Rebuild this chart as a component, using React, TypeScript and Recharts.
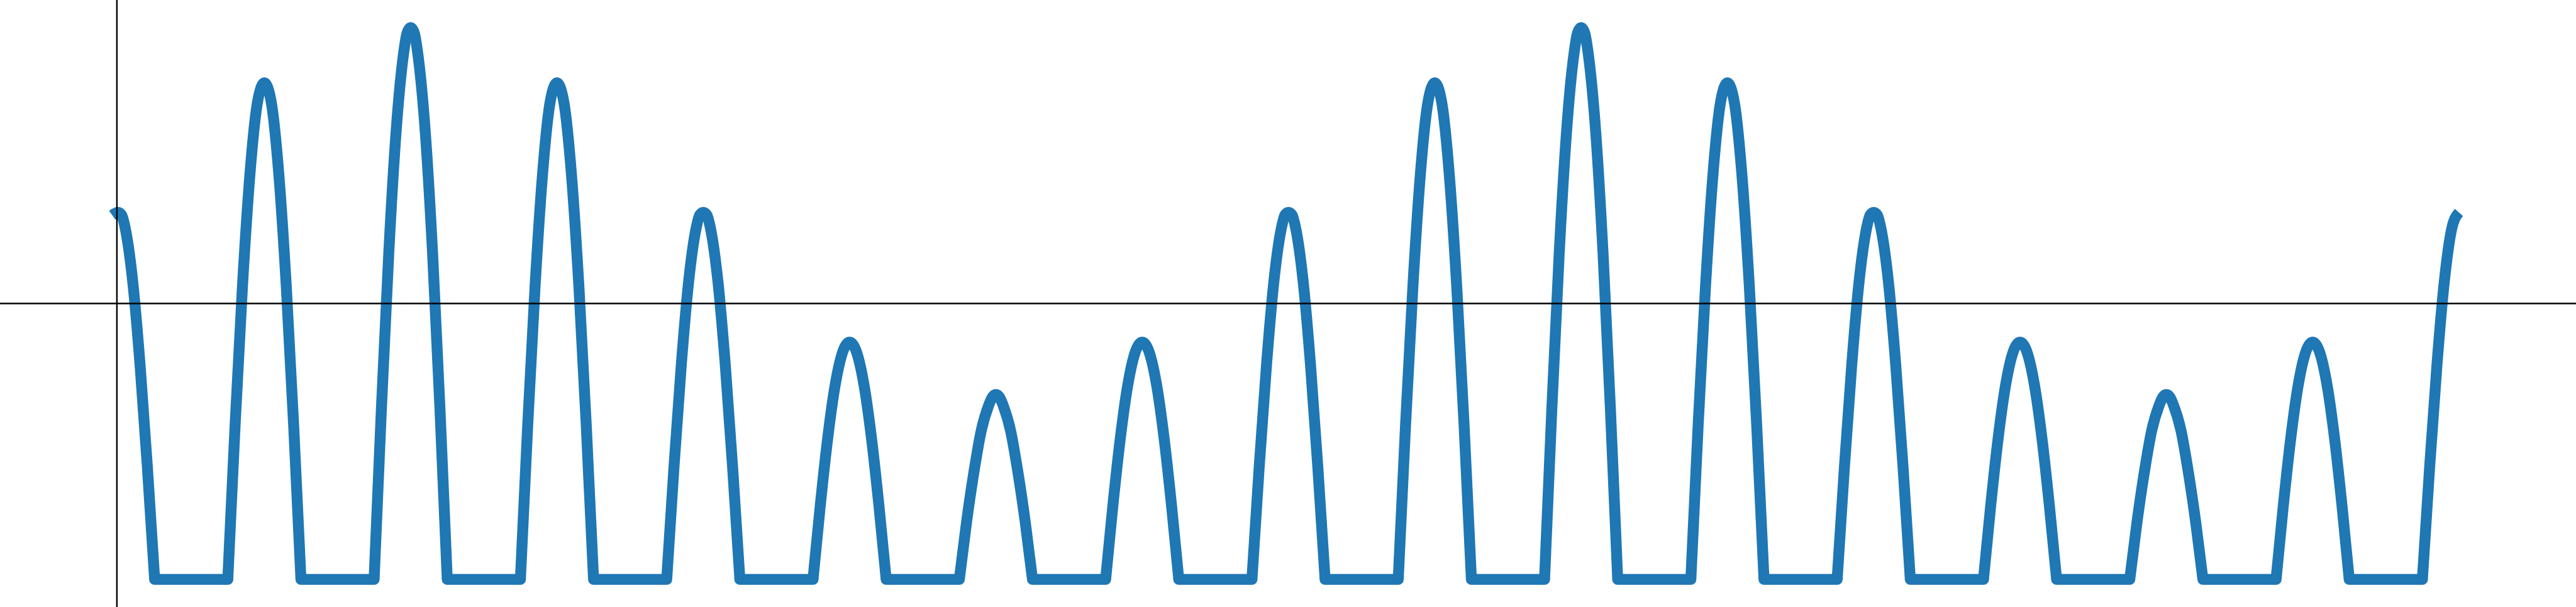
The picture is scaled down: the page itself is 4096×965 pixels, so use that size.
import React from 'react';
import { LineChart, Line, XAxis, YAxis, ReferenceLine } from 'recharts';

// points, [x, y]; x in peak-spacing units, y with the floor at -1
const bump0 = [[-0.04, 0.32], [0, 0.33], [0.025, 0.32], [0.05, 0.27], [0.1, 0.08], [0.15, -0.22], [0.2, -0.59], [0.25, -1]];
const bump1 = [[0.75, -1], [0.8, -0.44], [0.85, 0.06], [0.9, 0.46], [0.95, 0.72], [0.975, 0.78], [1, 0.8], [1.025, 0.78], [1.05, 0.72], [1.1, 0.46], [1.15, 0.06], [1.2, -0.44], [1.25, -1]];
const bump2 = [[1.75, -1], [1.8, -0.38], [1.85, 0.18], [1.9, 0.62], [1.95, 0.9], [1.975, 0.98], [2, 1], [2.025, 0.98], [2.05, 0.9], [2.1, 0.62], [2.15, 0.18], [2.2, -0.38], [2.25, -1]];
const bump3 = [[2.75, -1], [2.8, -0.44], [2.85, 0.06], [2.9, 0.46], [2.95, 0.72], [2.975, 0.78], [3, 0.8], [3.025, 0.78], [3.05, 0.72], [3.1, 0.46], [3.15, 0.06], [3.2, -0.44], [3.25, -1]];
const bump4 = [[3.75, -1], [3.8, -0.59], [3.85, -0.22], [3.9, 0.08], [3.95, 0.27], [3.975, 0.32], [4, 0.33], [4.025, 0.32], [4.05, 0.27], [4.1, 0.08], [4.15, -0.22], [4.2, -0.59], [4.25, -1]];
const bump5 = [[4.75, -1], [4.8, -0.73], [4.85, -0.49], [4.9, -0.3], [4.95, -0.18], [4.975, -0.15], [5, -0.14], [5.025, -0.15], [5.05, -0.18], [5.1, -0.3], [5.15, -0.49], [5.2, -0.73], [5.25, -1]];
const bump6 = [[5.75, -1], [5.8, -0.79], [5.85, -0.61], [5.9, -0.46], [5.95, -0.37], [5.975, -0.34], [6, -0.33], [6.025, -0.34], [6.05, -0.37], [6.1, -0.46], [6.15, -0.61], [6.2, -0.79], [6.25, -1]];
const bump7 = [[6.75, -1], [6.8, -0.73], [6.85, -0.49], [6.9, -0.3], [6.95, -0.18], [6.975, -0.15], [7, -0.14], [7.025, -0.15], [7.05, -0.18], [7.1, -0.3], [7.15, -0.49], [7.2, -0.73], [7.25, -1]];
const bump8 = [[7.75, -1], [7.8, -0.59], [7.85, -0.22], [7.9, 0.08], [7.95, 0.27], [7.975, 0.32], [8, 0.33], [8.025, 0.32], [8.05, 0.27], [8.1, 0.08], [8.15, -0.22], [8.2, -0.59], [8.25, -1]];
const bump9 = [[8.75, -1], [8.8, -0.44], [8.85, 0.06], [8.9, 0.46], [8.95, 0.72], [8.975, 0.78], [9, 0.8], [9.025, 0.78], [9.05, 0.72], [9.1, 0.46], [9.15, 0.06], [9.2, -0.44], [9.25, -1]];
const bump10 = [[9.75, -1], [9.8, -0.38], [9.85, 0.18], [9.9, 0.62], [9.95, 0.9], [9.975, 0.98], [10, 1], [10.025, 0.98], [10.05, 0.9], [10.1, 0.62], [10.15, 0.18], [10.2, -0.38], [10.25, -1]];
const bump11 = [[10.75, -1], [10.8, -0.44], [10.85, 0.06], [10.9, 0.46], [10.95, 0.72], [10.975, 0.78], [11, 0.8], [11.025, 0.78], [11.05, 0.72], [11.1, 0.46], [11.15, 0.06], [11.2, -0.44], [11.25, -1]];
const bump12 = [[11.75, -1], [11.8, -0.59], [11.85, -0.22], [11.9, 0.08], [11.95, 0.27], [11.975, 0.32], [12, 0.33], [12.025, 0.32], [12.05, 0.27], [12.1, 0.08], [12.15, -0.22], [12.2, -0.59], [12.25, -1]];
const bump13 = [[12.75, -1], [12.8, -0.73], [12.85, -0.49], [12.9, -0.3], [12.95, -0.18], [12.975, -0.15], [13, -0.14], [13.025, -0.15], [13.05, -0.18], [13.1, -0.3], [13.15, -0.49], [13.2, -0.73], [13.25, -1]];
const bump14 = [[13.75, -1], [13.8, -0.79], [13.85, -0.61], [13.9, -0.46], [13.95, -0.37], [13.975, -0.34], [14, -0.33], [14.025, -0.34], [14.05, -0.37], [14.1, -0.46], [14.15, -0.61], [14.2, -0.79], [14.25, -1]];
const bump15 = [[14.75, -1], [14.8, -0.73], [14.85, -0.49], [14.9, -0.3], [14.95, -0.18], [14.975, -0.15], [15, -0.14], [15.025, -0.15], [15.05, -0.18], [15.1, -0.3], [15.15, -0.49], [15.2, -0.73], [15.25, -1]];
const bump16 = [[15.75, -1], [15.8, -0.59], [15.85, -0.22], [15.9, 0.08], [15.95, 0.27], [16, 0.33]];

// middle of each flat stretch at the floor, between two bumps
const floorMidX = [0.5, 1.5, 2.5, 3.5, 4.5, 5.5, 6.5, 7.5, 8.5, 9.5, 10.5, 11.5, 12.5, 13.5, 14.5, 15.5];
const FLOOR = -1;

const bumps = [
  bump0, bump1, bump2, bump3, bump4, bump5, bump6, bump7, bump8,
  bump9, bump10, bump11, bump12, bump13, bump14, bump15, bump16,
];

// bumps are smooth curves, flats are straight runs; nulls split them into separate pieces
const data: { x: number; bump: number | null; flat: number | null }[] = [];
bumps.forEach((b, i) => {
  b.forEach(([x, y]) => data.push({ x, bump: y, flat: y === FLOOR ? FLOOR : null }));
  if (i < floorMidX.length) data.push({ x: floorMidX[i], bump: null, flat: FLOOR });
});

const W = 4096;
const H = 965;
const BLUE = '#1f77b4';
const LW = 17.4;

export default function App() {
  return (
    <div style={{ position: 'absolute', left: 0, top: 0, width: W, height: H, background: '#fff' }}>
      <LineChart width={W} height={H} data={data} margin={{ top: 0, right: 0, bottom: 0, left: 0 }}>
        <XAxis type="number" dataKey="x" domain={[-0.807, 16.8]} hide allowDataOverflow />
        <YAxis type="number" domain={[-1.1, 1.1]} hide allowDataOverflow />
        <Line
          type="linear"
          dataKey="flat"
          stroke={BLUE}
          strokeWidth={LW}
          strokeLinecap="round"
          dot={false}
          activeDot={false}
          isAnimationActive={false}
        />
        <Line
          type="monotone"
          dataKey="bump"
          stroke={BLUE}
          strokeWidth={LW}
          strokeLinejoin="round"
          dot={false}
          activeDot={false}
          isAnimationActive={false}
        />
        <ReferenceLine y={0} stroke="#000" strokeWidth={2.4} />
        <ReferenceLine x={-0.008} stroke="#000" strokeWidth={2.4} />
      </LineChart>
    </div>
  );
}
